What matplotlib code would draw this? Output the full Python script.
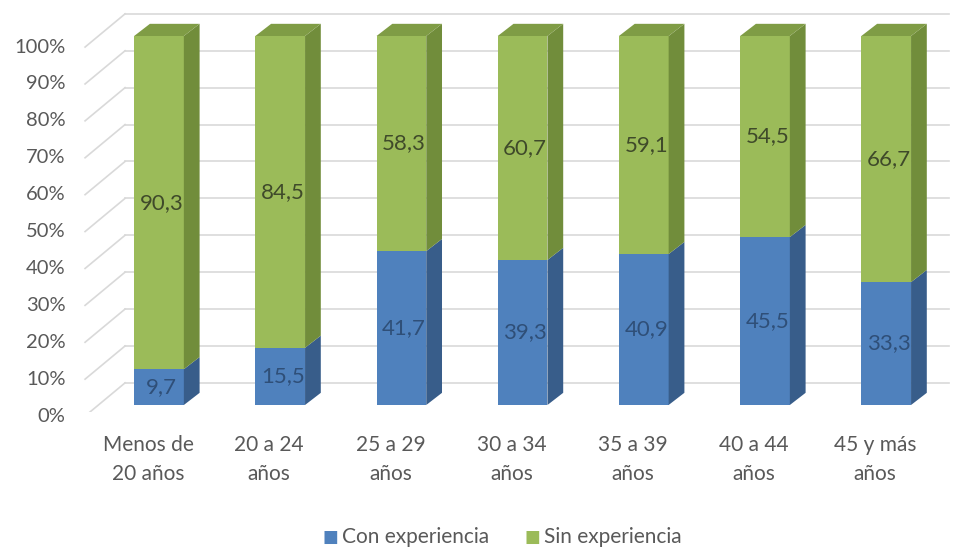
import matplotlib
matplotlib.use("Agg")
import matplotlib.pyplot as plt
from matplotlib.patches import Polygon, Rectangle

# data
categories = ["Menos de\n20 años", "20 a 24\naños", "25 a 29\naños", "30 a 34\naños",
              "35 a 39\naños", "40 a 44\naños", "45 y más\naños"]
con_exp = [9.7, 15.5, 41.7, 39.3, 40.9, 45.5, 33.3]
sin_exp = [90.3, 84.5, 58.3, 60.7, 59.1, 54.5, 66.7]
ticks = [0, 10, 20, 30, 40, 50, 60, 70, 80, 90, 100]
series_names = ["Con experiencia", "Sin experiencia"]

# styles
blue_front, blue_side = "#4f81bd", "#385d8a"
green_front, green_side, green_top = "#9bbb59", "#718d3b", "#7f9c45"
grid_col = "#d9d9d9"
text_col = "#595959"
font = ["Lato", "DejaVu Sans"]

W, H = 964, 549
fig = plt.figure(figsize=(W / 100, H / 100), dpi=100)

# map: x pixel = 159 + 121.2*i ; y pixel = 405 - 3.69*v
xl = (-0.9, 6.6)
yl = (-2, 108)
px0 = 159 + 121.2 * xl[0]
px1 = 159 + 121.2 * xl[1]
py0 = 405 - 3.69 * yl[0]
py1 = 405 - 3.69 * yl[1]
ax = fig.add_axes([px0 / W, 1 - py0 / H, (px1 - px0) / W, (py0 - py1) / H])
ax.set_xlim(*xl)
ax.set_ylim(*yl)
ax.axis("off")

bw = 0.41           # bar front width
ddx, ddy = 0.13, 3.3  # bar depth offset
wdx, wdy = 0.33, 6.0  # back wall offset
lab_dy = -3.0
wall_x0 = -0.28
wall_x1 = 6.52

# back wall gridlines + diagonals to labels
for t in ticks:
    ax.plot([wall_x0, wall_x1], [t + wdy, t + wdy], color=grid_col, lw=1.2, zorder=1)
    ax.plot([-0.61, wall_x0], [t + lab_dy, t + wdy], color=grid_col, lw=1.2, zorder=1)
    ax.text(-0.77, t + lab_dy, f"{t}%", ha="right", va="center",
            fontsize=14.5, color=text_col, family=font)

# bars
for i in range(len(categories)):
    x0 = i - bw / 2
    x1 = i + bw / 2
    segs = [(0, con_exp[i], blue_front, blue_side, "#2f4f78"),
            (con_exp[i], con_exp[i] + sin_exp[i], green_front, green_side, "#3f4a2a")]
    for b, t, fc, sc, tc in segs:
        ax.add_patch(Rectangle((x0, b), bw, t - b, facecolor=fc, edgecolor="none", zorder=3))
        ax.add_patch(Polygon([(x1, b), (x1 + ddx, b + ddy), (x1 + ddx, t + ddy), (x1, t)],
                             closed=True, facecolor=sc, edgecolor="none", zorder=3))
        ax.text(i + 0.02, (b + t) / 2, f"{t - b:.1f}".replace(".", ","), ha="center", va="center",
                fontsize=16, color=tc, family=font, zorder=5)
    top = con_exp[i] + sin_exp[i]
    ax.add_patch(Polygon([(x0, top), (x0 + ddx, top + ddy), (x1 + ddx, top + ddy), (x1, top)],
                         closed=True, facecolor=green_top, edgecolor="none", zorder=3))
    ax.text(i - 0.09, -8.0, categories[i], ha="center", va="top", fontsize=15,
            color=text_col, family=font, linespacing=1.6)

# legend
fig.text(330 / W, 1 - 537 / H, "■", color=blue_front, fontsize=12, ha="center", va="center", family=font)
fig.text(342 / W, 1 - 537 / H, series_names[0], color=text_col, fontsize=15, ha="left", va="center", family=font)
fig.text(532 / W, 1 - 537 / H, "■", color=green_front, fontsize=12, ha="center", va="center", family=font)
fig.text(544 / W, 1 - 537 / H, series_names[1], color=text_col, fontsize=15, ha="left", va="center", family=font)

fig.savefig("out.png", dpi=100)
